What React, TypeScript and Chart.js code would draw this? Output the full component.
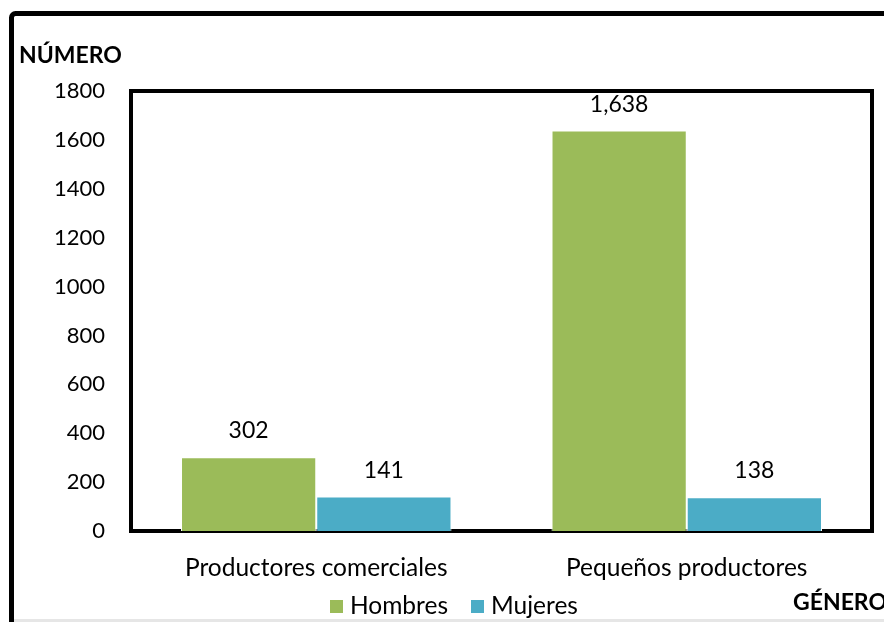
import React, { useEffect, useRef } from "react";
import { Chart, registerables } from "chart.js";

Chart.register(...registerables);

const categories = ["Productores comerciales", "Pequeños productores"];
const seriesNames = ["Hombres", "Mujeres"];
const hombres = [302, 1638];
const mujeres = [141, 138];
const seriesColors = ["#9BBB59", "#4BACC6"];
const yMin = 0;
const yMax = 1800;
const yStep = 200;
const yTitle = "NÚMERO";
const xTitle = "GÉNERO";

const FONT = "Lato, 'Noto Sans', sans-serif";

const decorPlugin = {
  id: "decor",
  beforeDraw(chart: any) {
    const ctx = chart.ctx;
    ctx.save();
    ctx.fillStyle = "#ffffff";
    ctx.fillRect(0, 0, chart.width, chart.height);
    // outer frame (clipped by canvas)
    ctx.strokeStyle = "#000000";
    ctx.lineWidth = 5;
    ctx.beginPath();
    if (ctx.roundRect) ctx.roundRect(11.5, 13.5, 960, 700, 4);
    else ctx.rect(11.5, 13.5, 960, 700);
    ctx.stroke();
    // light bottom edge
    ctx.fillStyle = "#e6e6e6";
    ctx.fillRect(14, 619, chart.width - 14, 3);
    ctx.restore();
  },
  beforeDatasetsDraw(chart: any) {
    const ctx = chart.ctx;
    const a = chart.chartArea;
    ctx.save();
    ctx.strokeStyle = "#000000";
    ctx.lineWidth = 4;
    ctx.strokeRect(a.left, a.top, a.right - a.left, a.bottom - a.top);
    ctx.restore();
  },
  afterDatasetsDraw(chart: any) {
    const ctx = chart.ctx;
    ctx.save();
    ctx.fillStyle = "#000000";
    ctx.font = `23px ${FONT}`;
    ctx.textAlign = "center";
    ctx.textBaseline = "alphabetic";
    chart.data.datasets.forEach((ds: any, di: number) => {
      const meta = chart.getDatasetMeta(di);
      meta.data.forEach((bar: any, i: number) => {
        const v = ds.data[i];
        ctx.fillText(v.toLocaleString("en-US"), bar.x, bar.y - 19);
      });
    });
    ctx.restore();
  },
  afterDraw(chart: any) {
    const ctx = chart.ctx;
    ctx.save();
    ctx.fillStyle = "#000000";
    ctx.textBaseline = "alphabetic";
    ctx.font = `bold 23px ${FONT}`;
    ctx.textAlign = "left";
    ctx.fillText(yTitle, 19, 63);
    ctx.fillText(xTitle, 793, 610);
    // legend
    ctx.font = `24.5px ${FONT}`;
    const legendX = [330, 471];
    seriesNames.forEach((name, i) => {
      ctx.fillStyle = seriesColors[i];
      ctx.fillRect(legendX[i], 600, 13, 13);
      ctx.fillStyle = "#000000";
      ctx.fillText(name, legendX[i] + 20, 614);
    });
    ctx.restore();
  },
};

export default function App() {
  const ref = useRef<HTMLCanvasElement>(null);
  useEffect(() => {
    document.body.style.margin = "0";
    const chart = new Chart(ref.current as HTMLCanvasElement, {
      type: "bar",
      data: {
        labels: categories,
        datasets: [
          {
            label: seriesNames[0],
            data: hombres,
            backgroundColor: seriesColors[0],
            borderColor: "#ffffff",
            borderWidth: 1,
          },
          {
            label: seriesNames[1],
            data: mujeres,
            backgroundColor: seriesColors[1],
            borderColor: "#ffffff",
            borderWidth: 1,
          },
        ],
      },
      options: {
        responsive: false,
        animation: false,
        layout: { padding: { top: 91, right: 12, left: 0, bottom: 0 } },
        datasets: {
          bar: { categoryPercentage: 0.73, barPercentage: 1 },
        },
        plugins: {
          legend: { display: false },
          tooltip: { enabled: false },
        },
        scales: {
          x: {
            grid: { display: false, drawTicks: false },
            border: { display: false },
            ticks: {
              color: "#000000",
              font: { family: FONT, size: 24.5 },
              padding: 22,
            },
            afterFit(scale: any) {
              scale.height = 91;
            },
          },
          y: {
            min: yMin,
            max: yMax,
            grid: { display: false, drawTicks: false },
            border: { display: false },
            ticks: {
              stepSize: yStep,
              color: "#000000",
              font: { family: FONT, size: 22 },
              padding: 26,
              callback: (v: any) => String(v),
            },
            afterFit(scale: any) {
              scale.width = 131;
            },
          },
        },
      },
      plugins: [decorPlugin],
    });
    return () => chart.destroy();
  }, []);
  return (
    <canvas
      ref={ref}
      width={884}
      height={622}
      style={{ display: "block", width: 884, height: 622 }}
    />
  );
}
